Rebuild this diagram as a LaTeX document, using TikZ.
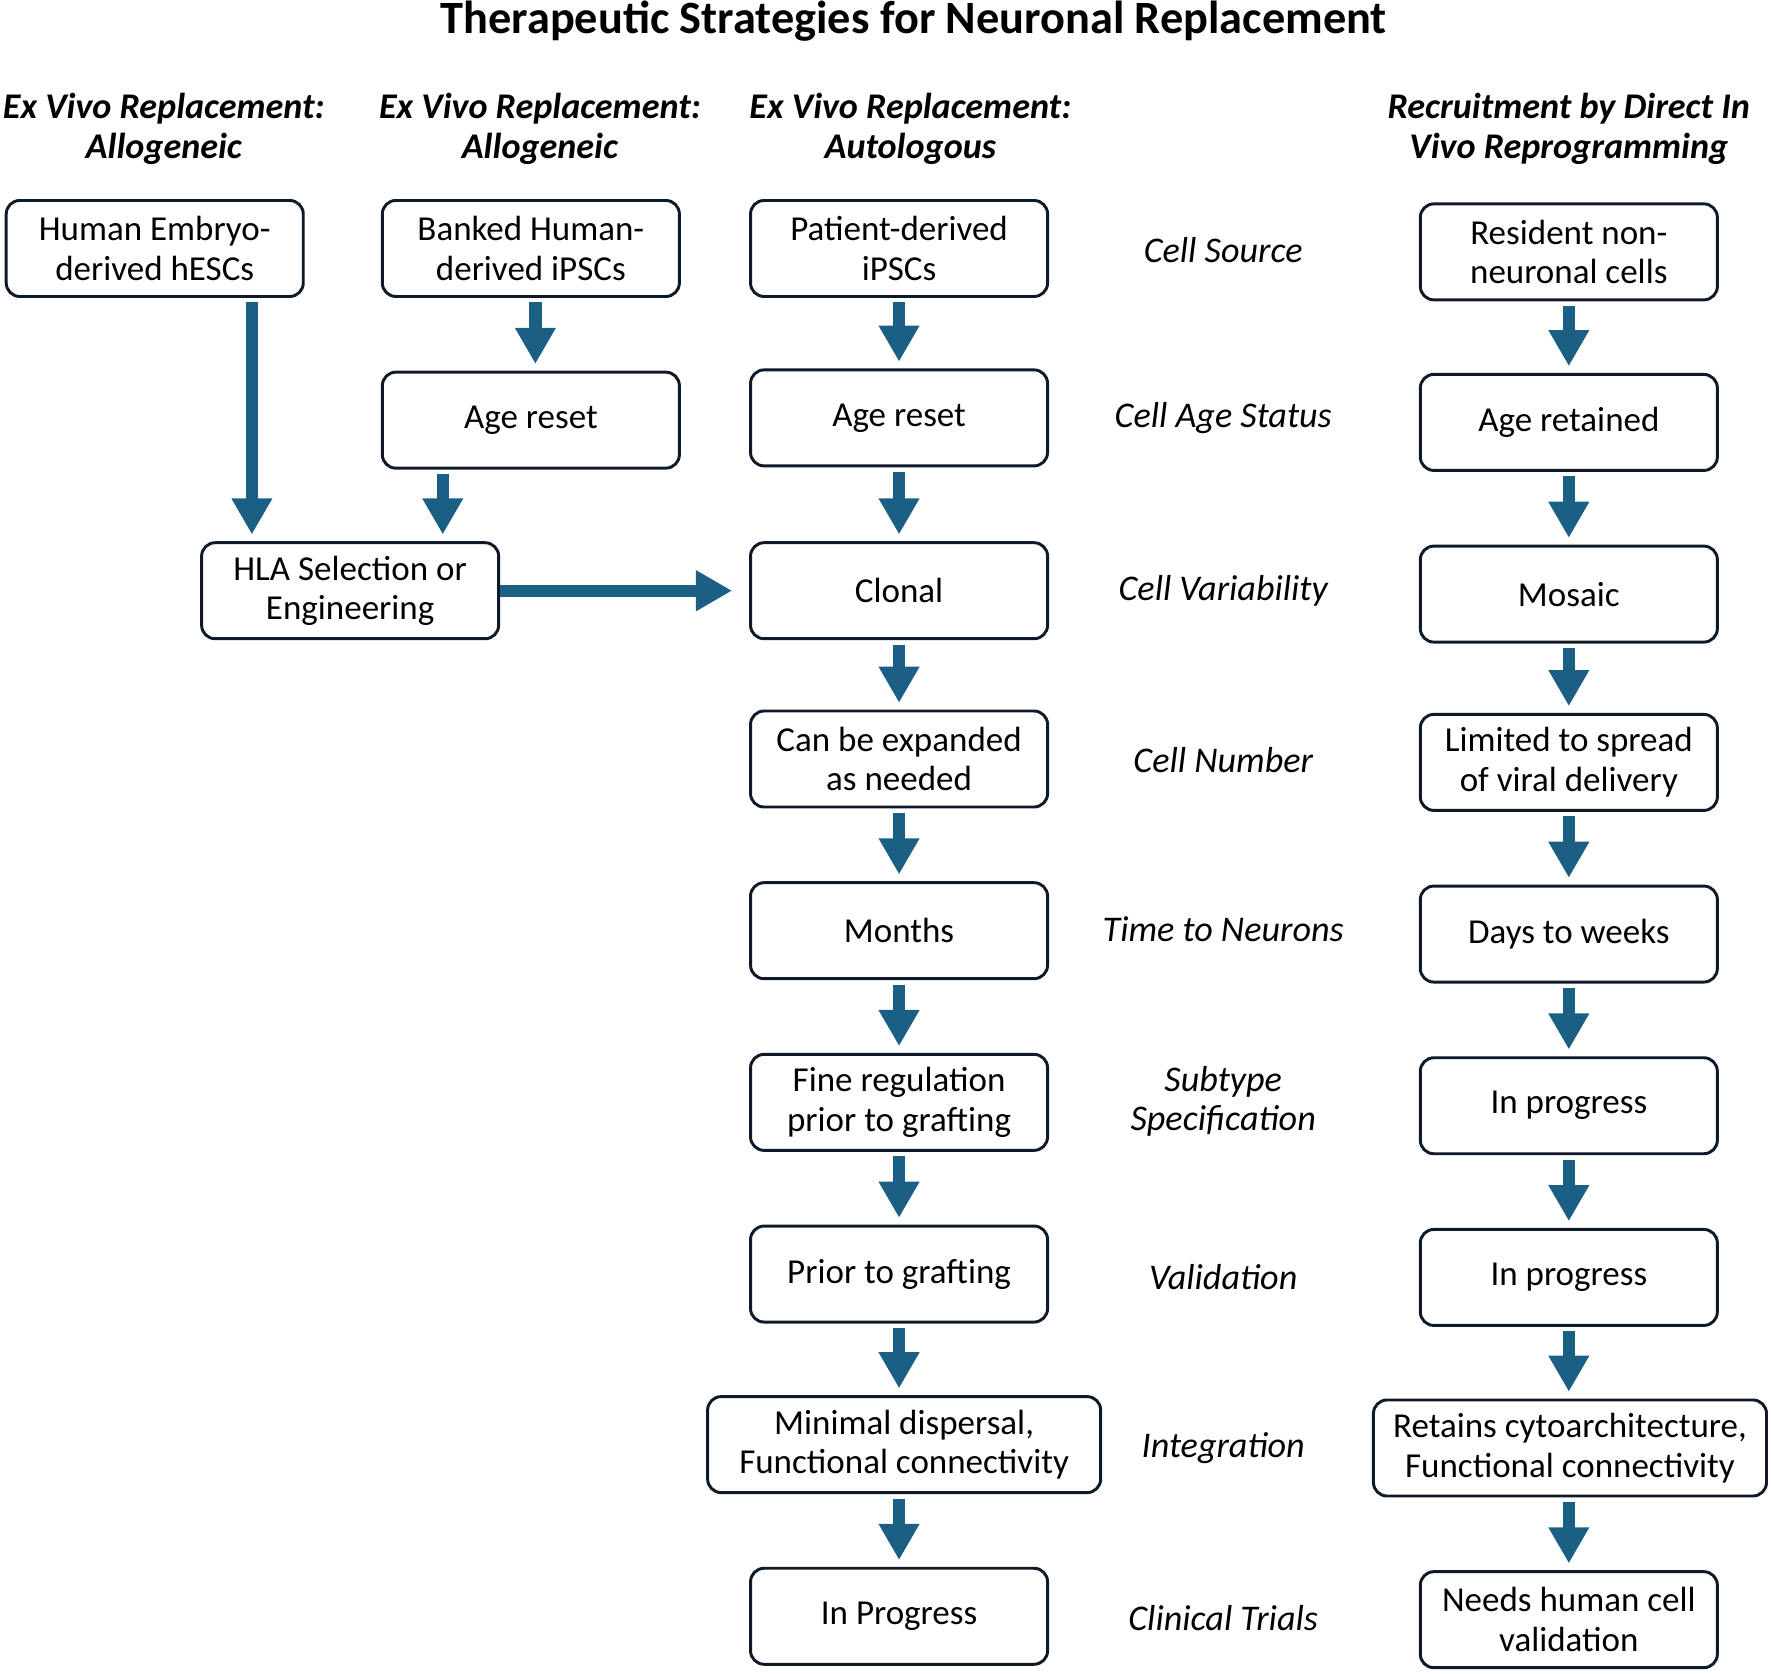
\documentclass[tikz,border=0pt]{standalone}
\usepackage{fontspec}
\setmainfont{Carlito}
\usetikzlibrary{arrows.meta}
\definecolor{arrowblue}{HTML}{1B5F85}
\definecolor{boxline}{HTML}{0E1A28}
\tikzset{
  box/.style={draw=boxline, line width=1.3pt, rounded corners=6pt, fill=white,
    minimum width=131.5pt, minimum height=42.5pt, inner sep=0pt, align=center,
    font=\fontsize{15.5pt}{17.5pt}\selectfont},
  widebox/.style={box, minimum width=174pt},
  midlabel/.style={align=center, inner sep=0pt, font=\fontsize{16pt}{17.5pt}\selectfont\itshape},
  header/.style={align=center, inner sep=0pt, font=\fontsize{16pt}{17.5pt}\selectfont\bfseries\itshape},
  blockarrow/.style={draw=arrowblue, line width=5.5pt, -{Triangle[width=17pt,length=16pt]},
    arrowblue, shorten <=2pt, shorten >=3pt},
}
\begin{document}
\begin{tikzpicture}[x=0.5pt, y=-0.5pt]
\useasboundingbox (0,0) rectangle (1568,1482);
% title
\node[inner sep=0pt, font=\fontsize{20.5pt}{24pt}\selectfont\bfseries] (title) at (809,19) {Therapeutic Strategies for Neuronal Replacement};
% headers
\node[header] (hdA) at (145,114) {Ex Vivo Replacement:\\Allogeneic};
\node[header] (hdB) at (478,114) {Ex Vivo Replacement:\\Allogeneic};
\node[header] (hdC) at (806,114) {Ex Vivo Replacement:\\Autologous};
\node[header] (hdD) at (1389,114) {Recruitment by Direct In\\Vivo Reprogramming};
% column A and B
\node[box] (a1) at (137,220) {Human Embryo-\\derived hESCs};
\node[box] (b1) at (470,220) {Banked Human-\\derived iPSCs};
\node[box] (b2) at (470,372) {Age reset};
\node[box] (hla) at (310,523) {HLA Selection or\\Engineering};
% column C
\node[box] (c1) at (796,220) {Patient-derived\\iPSCs};
\node[box] (c2) at (796,370) {Age reset};
\node[box] (c3) at (796,523) {Clonal};
\node[box] (c4) at (796,672) {Can be expanded\\as needed};
\node[box] (c5) at (796,824) {Months};
\node[box] (c6) at (796,976) {Fine regulation\\prior to grafting};
\node[box] (c7) at (796,1128) {Prior to grafting};
\node[widebox] (c8) at (800.5,1279) {Minimal dispersal,\\Functional connectivity};
\node[box] (c9) at (796,1431) {In Progress};
% middle labels
\node[midlabel] (m1) at (1083,221) {Cell Source};
\node[midlabel] (m2) at (1083,370) {Cell Age Status};
\node[midlabel] (m3) at (1083,523) {Cell Variability};
\node[midlabel] (m4) at (1083,673) {Cell Number};
\node[midlabel] (m5) at (1083,823) {Time to Neurons};
\node[midlabel] (m6) at (1083,975) {Subtype\\Specification};
\node[midlabel] (m7) at (1083,1131) {Validation};
\node[midlabel] (m8) at (1083,1282) {Integration};
\node[midlabel] (m9) at (1083,1433) {Clinical Trials};
% column D
\node[box] (d1) at (1389,223) {Resident non-\\neuronal cells};
\node[box] (d2) at (1389,374) {Age retained};
\node[box] (d3) at (1389,526) {Mosaic};
\node[box] (d4) at (1389,675) {Limited to spread\\of viral delivery};
\node[box] (d5) at (1389,827) {Days to weeks};
\node[box] (d6) at (1389,979) {In progress};
\node[box] (d7) at (1389,1131) {In progress};
\node[widebox] (d8) at (1390,1282) {Retains cytoarchitecture,\\Functional connectivity};
\node[box] (d9) at (1389,1434) {Needs human cell\\validation};
% arrows
\coordinate (ax) at (223,0);
\coordinate (bx) at (392,0);
\coordinate (bx1) at (474,0);
\draw[blockarrow] (a1.south -| ax) -- (hla.north -| ax);
\draw[blockarrow] (b1.south -| bx1) -- (b2.north -| bx1);
\draw[blockarrow] (b2.south -| bx) -- (hla.north -| bx);
\draw[blockarrow, shorten <=0pt, shorten >=7.5pt] (hla.east) -- (c3.west);
\foreach \u/\v in {c1/c2,c2/c3,c3/c4,c4/c5,c5/c6,c6/c7,c7/c8,c8/c9}
  \draw[blockarrow] (\u.south -| c1.south) -- (\v.north -| c1.south);
\foreach \u/\v in {d1/d2,d2/d3,d3/d4,d4/d5,d5/d6,d6/d7,d7/d8,d8/d9}
  \draw[blockarrow] (\u.south -| d1.south) -- (\v.north -| d1.south);
\end{tikzpicture}
\end{document}
